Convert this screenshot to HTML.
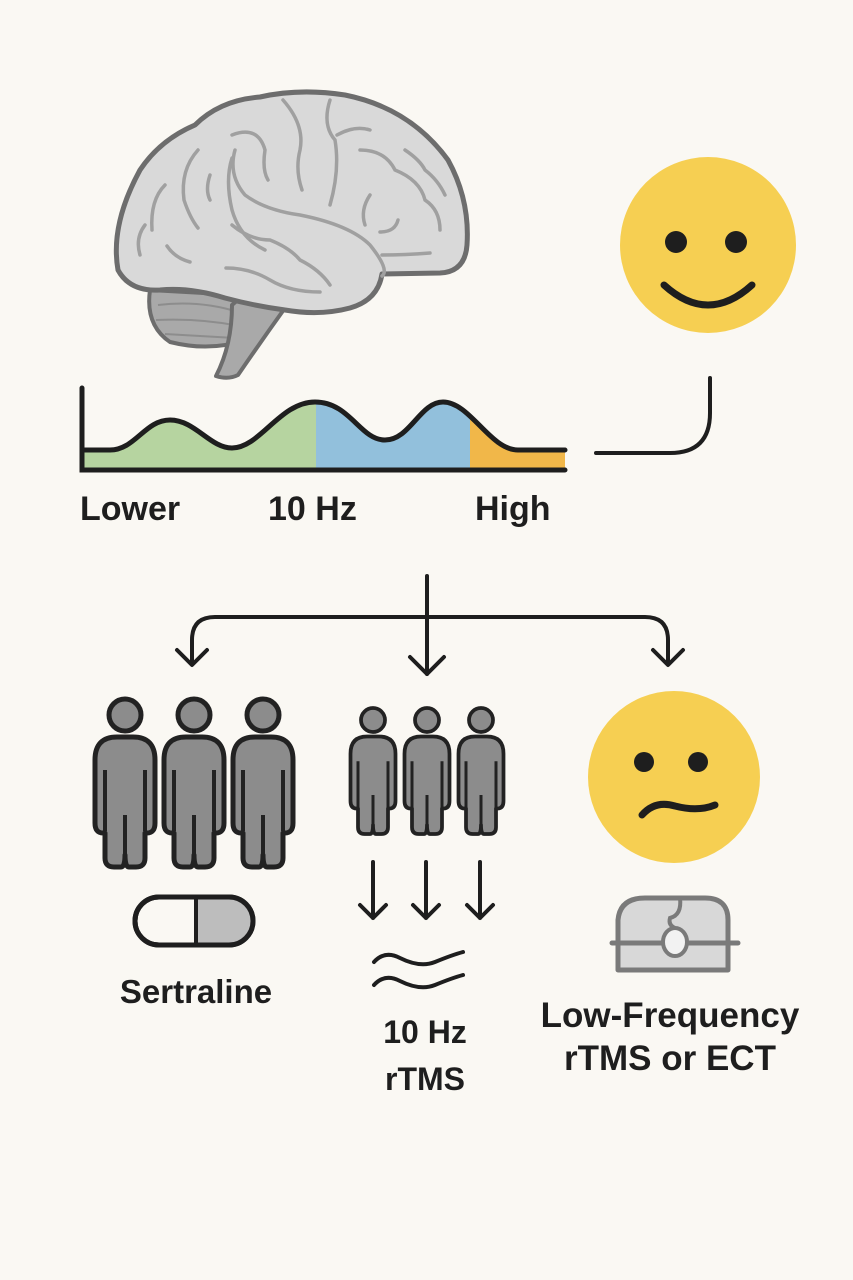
<!DOCTYPE html>
<html><head><meta charset="utf-8"><style>
html,body{margin:0;padding:0;background:#faf8f3;}
svg{display:block;}
text{font-family:"Liberation Sans",sans-serif;fill:#1e1e1e;font-weight:bold;}
</style></head><body>
<svg width="853" height="1280" viewBox="0 0 853 1280" xmlns="http://www.w3.org/2000/svg">
<rect width="853" height="1280" fill="#faf8f3"/>
<defs>
<g id="person">
<path d="M-30,45 Q-30,22 -8,22 L8,22 Q30,22 30,45 L30,108 Q30,118 22,118 L20,118 L20,143 Q20,152 11,152 L4,152 Q0,152 0,140 Q0,152 -4,152 L-11,152 Q-20,152 -20,143 L-20,118 L-22,118 Q-30,118 -30,108 Z" fill="#8c8c8c" stroke="#222" stroke-width="5" stroke-linejoin="round"/>
<circle cx="0" cy="0" r="16" fill="#8c8c8c" stroke="#222" stroke-width="5"/>
<path d="M-20,55 L-20,116 M20,55 L20,116 M0,100 L0,140" stroke="#222" stroke-width="4" fill="none"/>
</g>
</defs>
<!-- brain -->
<path d="M150,290 Q145,325 170,342 Q210,352 245,340 Q255,320 240,295 Z" fill="#a9a9a9" stroke="#6d6d6d" stroke-width="4"/>
<path d="M158,305 Q200,300 238,312 M156,320 Q200,318 240,326 M165,334 Q200,336 235,338" stroke="#8d8d8d" stroke-width="2" fill="none"/>
<path d="M240,298 L285,308 Q262,340 238,375 Q228,380 216,376 Q232,345 232,305 Z" fill="#a9a9a9" stroke="#6d6d6d" stroke-width="4" stroke-linejoin="round"/>
<path d="M118,270 Q110,225 140,170 Q160,140 195,125 Q220,100 260,97 Q300,88 345,95 Q410,108 448,160 Q470,200 467,245 Q465,272 440,273 L382,274 Q378,300 350,308 Q320,316 285,310 Q255,306 225,298 Q190,287 160,290 Q130,292 118,270 Z" fill="#d9d9d9" stroke="#6d6d6d" stroke-width="5" stroke-linejoin="round"/>
<g stroke="#a0a0a0" stroke-width="3.5" fill="none" stroke-linecap="round">
<path d="M232,135 Q258,125 265,150 Q262,170 268,180"/>
<path d="M283,100 Q305,125 300,150 Q295,170 302,190"/>
<path d="M330,100 Q322,125 335,140 Q340,170 330,205"/>
<path d="M337,135 Q355,125 370,130"/>
<path d="M232,158 Q225,180 232,210 Q240,238 265,250"/>
<path d="M198,150 Q180,170 184,200 Q190,218 198,228"/>
<path d="M210,175 Q205,190 210,200"/>
<path d="M165,185 Q150,200 152,230"/>
<path d="M145,225 Q135,238 140,255"/>
<path d="M167,246 Q175,258 190,262"/>
<path d="M235,150 Q228,175 245,195 Q265,210 300,215 Q350,225 370,245 Q390,270 382,276"/>
<path d="M232,225 Q250,240 270,240 Q290,248 300,260 Q320,270 330,285"/>
<path d="M226,268 Q250,268 270,280 Q290,292 320,292"/>
<path d="M360,150 Q385,150 395,170 Q420,180 425,200 Q440,210 440,230"/>
<path d="M405,150 Q420,160 425,170 Q438,180 445,195"/>
<path d="M370,195 Q360,210 365,225"/>
<path d="M380,232 Q395,232 398,220"/>
<path d="M382,255 Q405,255 430,253"/>
</g>
<!-- happy face -->
<circle cx="708" cy="245" r="88" fill="#f6cf52"/>
<circle cx="676" cy="242" r="11" fill="#1e1e1e"/>
<circle cx="736" cy="242" r="11" fill="#1e1e1e"/>
<path d="M664,285 Q708,325 752,285" stroke="#1e1e1e" stroke-width="7" fill="none" stroke-linecap="round"/>
<!-- chart -->
<defs><clipPath id="cc"><path d="M82,450 L110,450 C135,450 145,420 170,420 C195,420 210,448 232,448 C260,448 280,402 315,402 C350,402 360,440 385,440 C410,440 420,402 443,402 C470,402 490,450 518,450 L565,450 L565,468 L82,468 Z"/></clipPath></defs>
<g clip-path="url(#cc)">
<rect x="82" y="390" width="234" height="80" fill="#b6d4a0"/>
<rect x="316" y="390" width="154" height="80" fill="#92c0dc"/>
<rect x="470" y="390" width="95" height="80" fill="#f1b749"/>
</g>
<path d="M82,450 L110,450 C135,450 145,420 170,420 C195,420 210,448 232,448 C260,448 280,402 315,402 C350,402 360,440 385,440 C410,440 420,402 443,402 C470,402 490,450 518,450 L565,450" stroke="#1e1e1e" stroke-width="5" fill="none" stroke-linecap="round"/>
<path d="M82,388 L82,470 L565,470" stroke="#1e1e1e" stroke-width="5" fill="none" stroke-linecap="round"/>
<path d="M596,453 L670,453 Q710,453 710,413 L710,378" stroke="#1e1e1e" stroke-width="4" fill="none" stroke-linecap="round"/>
<text x="80" y="520" font-size="34">Lower</text>
<text x="268" y="520" font-size="34">10 Hz</text>
<text x="475" y="520" font-size="34">High</text>
<!-- branch arrows -->
<g stroke="#1e1e1e" stroke-width="4" fill="none" stroke-linecap="round" stroke-linejoin="round">
<path d="M427,576 L427,674"/>
<path d="M410,657 L427,674 L444,657"/>
<path d="M192,664 L192,640 Q192,617 215,617 L645,617 Q668,617 668,640 L668,664"/>
<path d="M177,650 L192,665 L207,650"/>
<path d="M653,650 L668,665 L683,650"/>
<path d="M373,862 L373,918 M360,905 L373,918 L386,905"/>
<path d="M426,862 L426,918 M413,905 L426,918 L439,905"/>
<path d="M480,862 L480,918 M467,905 L480,918 L493,905"/>
<path d="M374,962 Q385,950 400,958 Q420,968 435,962 Q452,955 463,952"/>
<path d="M374,985 Q385,973 400,981 Q420,991 435,985 Q452,978 463,975"/>
</g>
<!-- people -->
<use href="#person" transform="translate(125,715)"/>
<use href="#person" transform="translate(194,715)"/>
<use href="#person" transform="translate(263,715)"/>
<use href="#person" transform="translate(373,720) scale(0.75)"/>
<use href="#person" transform="translate(427,720) scale(0.75)"/>
<use href="#person" transform="translate(481,720) scale(0.75)"/>
<!-- sad face -->
<circle cx="674" cy="777" r="86" fill="#f6cf52"/>
<circle cx="644" cy="762" r="10" fill="#1e1e1e"/>
<circle cx="698" cy="762" r="10" fill="#1e1e1e"/>
<path d="M642,815 Q655,800 675,806 Q698,812 715,805" stroke="#1e1e1e" stroke-width="7" fill="none" stroke-linecap="round"/>
<!-- pill -->
<rect x="135" y="897" width="118" height="48" rx="24" fill="#faf8f3" stroke="#1e1e1e" stroke-width="5"/>
<path d="M197,899 L229,899 A22,22 0 0 1 229,943 L197,943 Z" fill="#bdbdbd"/>
<rect x="135" y="897" width="118" height="48" rx="24" fill="none" stroke="#1e1e1e" stroke-width="5"/>
<path d="M196,898 L196,944" stroke="#1e1e1e" stroke-width="4"/>
<!-- device -->
<path d="M618,970 L618,920 Q620,898 645,898 L705,898 Q728,898 728,920 L728,970 Z" fill="#d8d8d8" stroke="#7a7a7a" stroke-width="5" stroke-linejoin="round"/>
<path d="M612,943 L738,943" stroke="#7a7a7a" stroke-width="5" stroke-linecap="round"/>
<path d="M680,898 Q682,915 670,918 Q668,925 675,928" stroke="#7a7a7a" stroke-width="4" fill="none"/>
<ellipse cx="675" cy="942" rx="12" ry="14" fill="#f2f2f2" stroke="#7a7a7a" stroke-width="4"/>
<!-- labels -->
<text x="196" y="1003" font-size="33" text-anchor="middle">Sertraline</text>
<text x="425" y="1043" font-size="32" text-anchor="middle">10 Hz</text>
<text x="425" y="1090" font-size="32" text-anchor="middle">rTMS</text>
<text x="670" y="1027" font-size="35" text-anchor="middle">Low-Frequency</text>
<text x="670" y="1070" font-size="35" text-anchor="middle">rTMS or ECT</text>
</svg>
</body></html>
